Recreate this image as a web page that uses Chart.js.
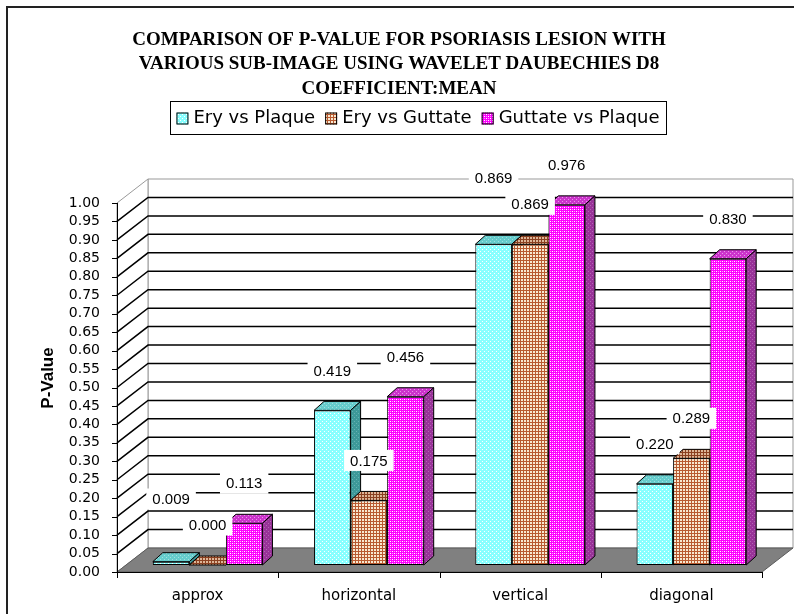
<!DOCTYPE html>
<html>
<head>
<meta charset="utf-8">
<script src="https://cdn.jsdelivr.net/npm/chart.js@4.4.0/dist/chart.umd.min.js"></script>
<style>
  html, body { margin: 0; padding: 0; background: #fff; }
  #wrap { width: 794px; height: 614px; }
</style>
</head>
<body>
<div id="wrap"><canvas id="chart" width="794" height="614"></canvas></div>
<script>
// Data
const titleLines = [
  "COMPARISON OF P-VALUE FOR PSORIASIS LESION WITH",
  "VARIOUS SUB-IMAGE USING WAVELET DAUBECHIES D8",
  "COEFFICIENT:MEAN"
];
const categories = ["approx", "horizontal", "vertical", "diagonal"];
const seriesNames = ["Ery vs Plaque", "Ery vs Guttate", "Guttate vs Plaque"];
const eryVsPlaque = [0.009, 0.419, 0.869, 0.220];
const eryVsGuttate = [0.000, 0.175, 0.869, 0.289];
const guttateVsPlaque = [0.113, 0.456, 0.976, 0.830];
const yAxisTitle = "P-Value";

// 3D look
const WALL = { dx: 31, dy: -24 };      // depth of the floor / side wall
const SHIFT = { dx: 10, dy: -7 };      // bar row sits a bit behind the front edge
const BAR = { dx: 10, dy: -9 };        // depth of one bar

// Small tiled fills like the Excel patterns
function pattern(size, base, dots) {
  const c = document.createElement("canvas");
  c.width = c.height = size;
  const g = c.getContext("2d");
  g.fillStyle = base;
  g.fillRect(0, 0, size, size);
  dots.forEach(([x, y, w, h, col]) => { g.fillStyle = col; g.fillRect(x, y, w, h); });
  return g.createPattern(c, "repeat");
}

const fills = [
  {
    front: pattern(4, "#88FFFF", [[0, 0, 1, 1, "#FFFFFF"], [2, 2, 1, 1, "#FFFFFF"]]),
    top: pattern(4, "#66CCCC", [[0, 0, 1, 1, "#A3E0E0"], [2, 2, 1, 1, "#A3E0E0"]]),
    side: pattern(4, "#3D9999", [[0, 0, 1, 1, "#66B3B3"], [2, 2, 1, 1, "#66B3B3"]])
  },
  {
    front: pattern(3, "#F8E8D0", [[0, 0, 3, 1, "#B85A30"], [0, 0, 1, 3, "#B85A30"]]),
    top: pattern(3, "#DDB597", [[0, 0, 3, 1, "#8B4020"], [0, 0, 1, 3, "#8B4020"]]),
    side: pattern(3, "#A06040", [[0, 0, 3, 1, "#6B2A10"], [0, 0, 1, 3, "#6B2A10"]])
  },
  {
    front: pattern(4, "#FF00FF", [[0, 0, 1, 1, "#FFFFFF"], [2, 2, 1, 1, "#FFFFFF"], [2, 0, 1, 1, "#FF99FF"], [0, 2, 1, 1, "#FF99FF"]]),
    top: pattern(4, "#CC33CC", [[0, 0, 1, 1, "#E699E6"], [2, 2, 1, 1, "#E699E6"]]),
    side: pattern(4, "#993399", [[0, 0, 1, 1, "#B366B3"], [2, 2, 1, 1, "#B366B3"]])
  }
];

function poly(ctx, pts, fill, stroke) {
  ctx.beginPath();
  ctx.moveTo(pts[0][0], pts[0][1]);
  for (let i = 1; i < pts.length; i++) ctx.lineTo(pts[i][0], pts[i][1]);
  ctx.closePath();
  if (fill) { ctx.fillStyle = fill; ctx.fill(); }
  if (stroke) { ctx.strokeStyle = stroke; ctx.stroke(); }
}

// Walls, floor, gridlines and the bars with their top and side faces
const scene3d = {
  id: "scene3d",
  beforeDatasetsDraw(chart) {
    const { ctx, chartArea: a, scales: { y } } = chart;
    ctx.save();
    ctx.lineWidth = 1;

    // back wall and left wall
    poly(ctx, [[a.left + WALL.dx, a.top + WALL.dy], [a.right + WALL.dx, a.top + WALL.dy],
      [a.right + WALL.dx, a.bottom + WALL.dy], [a.left + WALL.dx, a.bottom + WALL.dy]], "#FFFFFF", "#999999");
    poly(ctx, [[a.left, a.top], [a.left + WALL.dx, a.top + WALL.dy],
      [a.left + WALL.dx, a.bottom + WALL.dy], [a.left, a.bottom]], "#FFFFFF", "#999999");

    // gridlines
    ctx.strokeStyle = "#000";
    ctx.lineWidth = 1.5;
    y.ticks.forEach(t => {
      if (t.value <= 0 || t.value >= 1) return;
      const py = y.getPixelForValue(t.value);
      ctx.beginPath();
      ctx.moveTo(a.left, py);
      ctx.lineTo(a.left + WALL.dx, py + WALL.dy);
      ctx.lineTo(a.right + WALL.dx, py + WALL.dy);
      ctx.stroke();
    });

    // floor
    ctx.lineWidth = 1;
    poly(ctx, [[a.left, a.bottom], [a.right, a.bottom], [a.right + WALL.dx, a.bottom + WALL.dy],
      [a.left + WALL.dx, a.bottom + WALL.dy]], "#808080", "#5a5a5a");

    // front axis lines and tick marks
    ctx.strokeStyle = "#000";
    ctx.beginPath();
    ctx.moveTo(a.left + 0.5, a.top);
    ctx.lineTo(a.left + 0.5, a.bottom);
    y.ticks.forEach(t => {
      const py = Math.round(y.getPixelForValue(t.value)) + 0.5;
      ctx.moveTo(a.left - 5, py);
      ctx.lineTo(a.left, py);
    });
    ctx.moveTo(a.left, a.bottom + 0.5);
    ctx.lineTo(a.right, a.bottom + 0.5);
    const n = categories.length;
    for (let i = 0; i <= n; i++) {
      const px = Math.round(a.left + i * (a.right - a.left) / n) + 0.5;
      ctx.moveTo(px, a.bottom);
      ctx.lineTo(px, a.bottom + 6);
    }
    ctx.stroke();

    // bars, category by category, left to right so the 3D faces overlap properly
    ctx.translate(SHIFT.dx, SHIFT.dy);
    const metas = chart.getSortedVisibleDatasetMetas().slice().sort((p, q) => p.index - q.index);
    for (let j = 0; j < categories.length; j++) {
      metas.forEach(meta => {
        const el = meta.data[j];
        const f = fills[meta.index];
        el.draw(ctx);
        const l = el.x - el.width / 2, r = el.x + el.width / 2, top = el.y, bot = el.base;
        ctx.lineWidth = 1;
        poly(ctx, [[l, top], [l + BAR.dx, top + BAR.dy], [r + BAR.dx, top + BAR.dy], [r, top]], f.top, "#000");
        poly(ctx, [[r, top], [r + BAR.dx, top + BAR.dy], [r + BAR.dx, bot + BAR.dy], [r, bot]], f.side, "#000");
      });
    }
    ctx.restore();
    return false;
  }
};

// Title, legend, axis title, frame and value labels
const decorations = {
  id: "decorations",
  afterDraw(chart) {
    const { ctx } = chart;
    ctx.save();

    // frame
    ctx.strokeStyle = "#222";
    ctx.lineWidth = 2;
    ctx.strokeRect(7, 7, 820, 640);

    // title
    ctx.fillStyle = "#000";
    ctx.font = "bold 19px 'Liberation Serif', 'Times New Roman', serif";
    ctx.textAlign = "center";
    ctx.textBaseline = "middle";
    titleLines.forEach((line, i) => ctx.fillText(line, 399, 40 + i * 24.5));

    // legend
    const lx = 170, ly = 101, lw = 496, lh = 33;
    ctx.fillStyle = "#fff";
    ctx.fillRect(lx, ly, lw, lh);
    ctx.strokeStyle = "#000";
    ctx.lineWidth = 1;
    ctx.strokeRect(lx + 0.5, ly + 0.5, lw, lh);
    ctx.font = "18px 'DejaVu Sans', sans-serif";
    ctx.textAlign = "left";
    const items = chart.data.datasets.map((ds, i) => ({ text: ds.label, fill: fills[i].front, w: ctx.measureText(ds.label).width }));
    const gap = 10, sw = 12;
    const total = items.reduce((s, it) => s + sw + 5 + it.w, 0) + gap * (items.length - 1);
    let cx = lx + lw / 2 - total / 2;
    const cy = ly + lh / 2 + 1;
    items.forEach(it => {
      ctx.fillStyle = it.fill;
      ctx.fillRect(cx, cy - sw / 2, sw, sw);
      ctx.strokeRect(cx + 0.5, cy - sw / 2 + 0.5, sw - 1, sw - 1);
      ctx.fillStyle = "#000";
      ctx.fillText(it.text, cx + sw + 5, cy);
      cx += sw + 5 + it.w + gap;
    });

    // y axis title
    ctx.save();
    ctx.translate(48, 378);
    ctx.rotate(-Math.PI / 2);
    ctx.font = "bold 17px 'Liberation Sans', Arial, sans-serif";
    ctx.textAlign = "center";
    ctx.fillText(yAxisTitle, 0, 0);
    ctx.restore();

    // value labels on white boxes, nudged up when they collide
    ctx.font = "15px 'Liberation Sans', Arial, sans-serif";
    ctx.textAlign = "center";
    const boxes = [];
    const metas = chart.getSortedVisibleDatasetMetas().slice().sort((p, q) => q.index - p.index);
    for (let j = 0; j < categories.length; j++) {
      metas.forEach(meta => {
        const el = meta.data[j];
        const text = chart.data.datasets[meta.index].data[j].toFixed(3);
        const w = ctx.measureText(text).width + 12, h = 21;
        let bx = el.x + SHIFT.dx - w / 2, by = el.y + SHIFT.dy - 40 - h / 2;
        let moved = true;
        while (moved) {
          moved = false;
          for (const b of boxes) {
            if (bx < b.x + b.w && bx + w > b.x && by < b.y + b.h && by + h > b.y) {
              by = b.y - h - 5;
              moved = true;
            }
          }
        }
        boxes.push({ x: bx, y: by, w, h, text });
      });
    }
    boxes.forEach(b => {
      ctx.fillStyle = "#fff";
      ctx.fillRect(b.x, b.y, b.w, b.h);
      ctx.fillStyle = "#000";
      ctx.fillText(b.text, b.x + b.w / 2, b.y + b.h / 2 + 1);
    });
    ctx.restore();
  }
};

const seriesValues = [eryVsPlaque, eryVsGuttate, guttateVsPlaque];

new Chart(document.getElementById("chart"), {
  type: "bar",
  data: {
    labels: categories,
    datasets: seriesNames.map((name, i) => ({
      label: name,
      data: seriesValues[i],
      backgroundColor: fills[i].front,
      borderColor: "#000",
      borderWidth: 1,
      borderSkipped: false,
      categoryPercentage: 0.68,
      barPercentage: 1
    }))
  },
  options: {
    responsive: false,
    animation: false,
    devicePixelRatio: 1,
    layout: { padding: { left: 57, right: 32, top: 203, bottom: 0 } },
    plugins: {
      legend: { display: false },
      title: { display: false },
      tooltip: { enabled: false }
    },
    scales: {
      x: {
        grid: { display: false },
        border: { display: false },
        ticks: { color: "#000", padding: 7, font: { family: "'DejaVu Sans', sans-serif", size: 15 } },
        afterFit: s => { s.height = 42; }
      },
      y: {
        min: 0,
        max: 1,
        grid: { display: false },
        border: { display: false },
        ticks: {
          stepSize: 0.05,
          autoSkip: false,
          color: "#000",
          padding: 9,
          font: { family: "'DejaVu Sans', sans-serif", size: 14, lineHeight: 1 },
          callback: v => v.toFixed(2)
        },
        afterFit: s => { s.width = 60; }
      }
    }
  },
  plugins: [scene3d, decorations]
});
</script>
</body>
</html>
